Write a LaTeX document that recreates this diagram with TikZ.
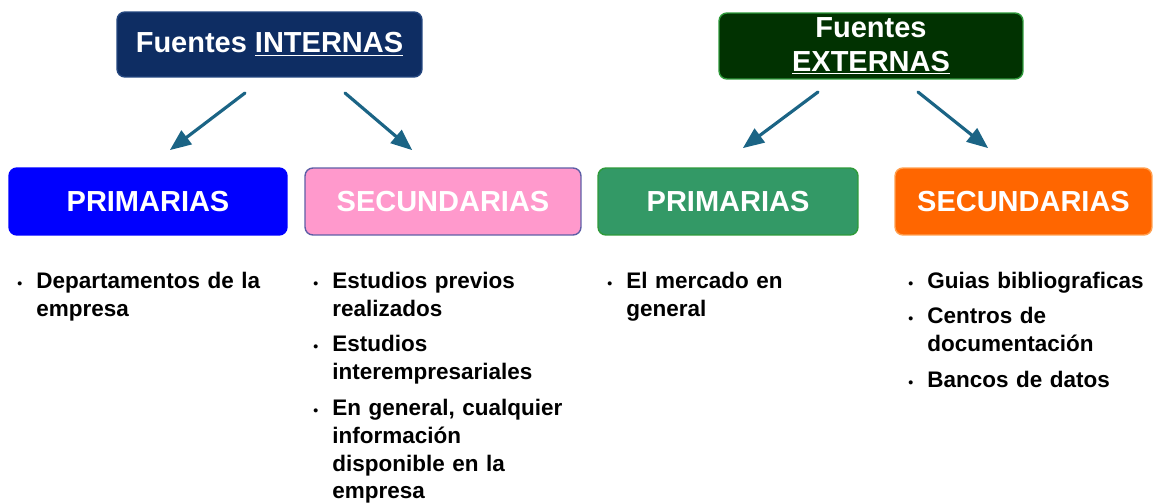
\documentclass[tikz,border=0pt]{standalone}
\usepackage{fontspec}
\setmainfont{Liberation Sans}
\usepackage{enumitem}
\usetikzlibrary{arrows}

\definecolor{azulosc}{HTML}{0E2D63}
\definecolor{azulbrd}{HTML}{24467F}
\definecolor{verdeosc}{HTML}{013201}
\definecolor{verdebrd}{HTML}{2E9A3A}
\definecolor{azulprim}{HTML}{0000FF}
\definecolor{rosa}{HTML}{FF99CC}
\definecolor{rosabrd}{HTML}{5E5EA6}
\definecolor{verdeprim}{HTML}{339966}
\definecolor{naranja}{HTML}{FF6600}
\definecolor{naranjabrd}{HTML}{FFA050}
\definecolor{flechaazul}{HTML}{1B6485}

\newlist{puntos}{itemize}{1}
\setlist[puntos]{label={\footnotesize\textbullet},align=left,leftmargin=0.38cm,labelwidth=0.38cm,labelsep=0pt,labelindent=0pt,topsep=0pt,partopsep=0pt,parsep=0pt,itemsep=4.3pt}

\begin{document}
\begin{tikzpicture}[line cap=round,line join=round,>=triangle 45,x=0.02cm,y=-0.02cm,
  caja/.style={draw,rounded corners=4.5pt,line width=0.8pt,text=white,align=center,inner sep=0pt,
    font=\bfseries\fontsize{16.5}{19.3}\selectfont},
  flecha/.style={->,line width=1.8pt,color=flechaazul},
  lista/.style={anchor=north west,inner sep=0pt,text width=5.3cm,
    font=\bfseries\fontsize{12.8}{15.9}\selectfont}]

\useasboundingbox (0,0) rectangle (1159,503);

% cabeceras
\node[caja,fill=azulosc,draw=azulbrd,minimum width=6.1cm,minimum height=1.3cm] (internas) at (269.5,44.5) {Fuentes \underline{INTERNAS}};
\node[caja,fill=verdeosc,draw=verdebrd,minimum width=6.08cm,minimum height=1.32cm] (externas) at (871,46) {Fuentes\\\underline{EXTERNAS}};

% segundo nivel
\node[caja,fill=azulprim,draw=azulprim,minimum width=5.56cm,minimum height=1.34cm] (prim1) at (148,201.5) {PRIMARIAS};
\node[caja,fill=rosa,draw=rosabrd,minimum width=5.52cm,minimum height=1.34cm] (sec1) at (443,201.5) {SECUNDARIAS};
\node[caja,fill=verdeprim,draw=verdebrd,minimum width=5.2cm,minimum height=1.34cm] (prim2) at (728,201.5) {PRIMARIAS};
\node[caja,fill=naranja,draw=naranjabrd,minimum width=5.14cm,minimum height=1.34cm] (sec2) at (1023.5,201.5) {SECUNDARIAS};

% flechas
\coordinate (i1) at (245,93);
\coordinate (i2) at (345,93);
\coordinate (e1) at (818,92);
\coordinate (e2) at (918,92);
\coordinate (p1) at (170,150);
\coordinate (s1) at (412,150);
\coordinate (p2) at (743,148);
\coordinate (s2) at (988,148);
\draw[flecha] (i1) -- (p1);
\draw[flecha] (i2) -- (s1);
\draw[flecha] (e1) -- (p2);
\draw[flecha] (e2) -- (s2);

% listas
\node[lista] (lista1) at (17,260) {\begin{puntos}
\item Departamentos de la\\empresa
\end{puntos}};
\node[lista] (lista2) at (313,260) {\begin{puntos}
\item Estudios previos\\realizados
\item Estudios\\interempresariales
\item En general, cualquier\\informaci\'on\\disponible en la\\empresa
\end{puntos}};
\node[lista] (lista3) at (607,260) {\begin{puntos}
\item El mercado en\\general
\end{puntos}};
\node[lista] (lista4) at (908,260) {\begin{puntos}
\item Guias bibliograficas
\item Centros de\\documentaci\'on
\item Bancos de datos
\end{puntos}};

\end{tikzpicture}
\end{document}
